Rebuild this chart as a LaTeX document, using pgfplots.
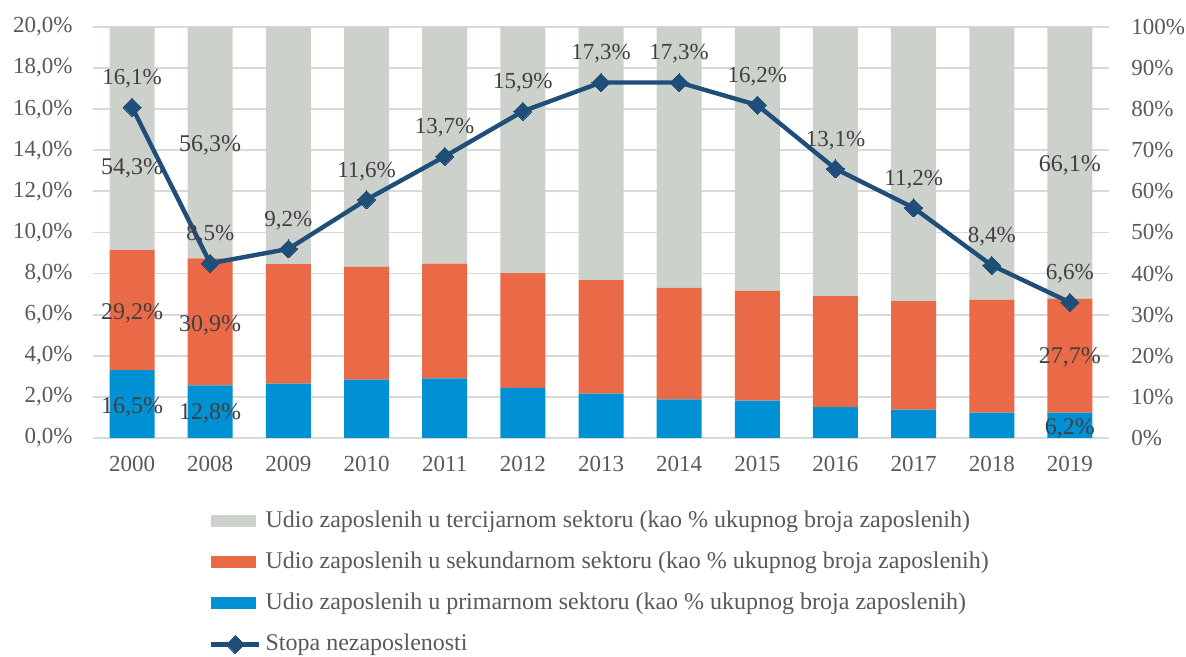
\documentclass[border=0pt]{standalone}
\usepackage{pgfplots}
\pgfplotsset{compat=1.18}
\usepackage{fontspec}
\setmainfont{Liberation Serif}
\definecolor{terc}{HTML}{CDD1CC}
\definecolor{sek}{HTML}{EA6A47}
\definecolor{prim}{HTML}{0091D5}
\definecolor{lin}{HTML}{1F4E79}
\definecolor{txt}{HTML}{595959}
\definecolor{lbl}{HTML}{404040}
\definecolor{grd}{HTML}{D9D9D9}
\pgfplotsset{
 linelegend/.style={legend image code/.code={\draw[##1, mark repeat=2, mark phase=2] plot coordinates {(0pt,0pt) (12pt,0pt) (24pt,0pt)};}},
}
\begin{document}
\fontsize{12}{14}\selectfont
\begin{tikzpicture}
\pgfplotsset{
 common/.style={width=508pt, height=205.5pt, scale only axis,
   xmin=-0.5, xmax=12.5, xtick={0,...,12},
   axis line style={draw=none}, major tick style={draw=none},
   /pgf/number format/assume math mode=true,
   tick label style={font=\fontsize{11.5}{14}\selectfont, text=txt},
   clip=false},
 lbl/.style={font=\fontsize{11.5}{14}\selectfont, text=lbl, inner sep=0pt, anchor=center},
}
\begin{axis}[common, name=ax,
  ybar stacked, bar width=22.5pt,
  ymin=0, ymax=100, ytick={0,10,...,100},
  axis y line*=right, axis x line*=bottom,
  ymajorgrids, grid style={grd, line width=0.9pt},
  xticklabels={2000,2008,2009,2010,2011,2012,2013,2014,2015,2016,2017,2018,2019},
  yticklabel={\pgfmathprintnumber{\tick}\%},
  yticklabel style={xshift=7pt},
  xticklabel style={yshift=-5pt},
]
\addplot[fill=prim, draw=none] coordinates {(0,16.5)(1,12.8)(2,13.2)(3,14.2)(4,14.5)(5,12.2)(6,10.8)(7,9.4)(8,9.1)(9,7.5)(10,6.9)(11,6.2)(12,6.2)};
\addplot[fill=sek, draw=none] coordinates {(0,29.2)(1,30.9)(2,29.1)(3,27.5)(4,27.9)(5,27.9)(6,27.6)(7,27.1)(8,26.7)(9,27.0)(10,26.4)(11,27.4)(12,27.7)};
\addplot[fill=terc, draw=none] coordinates {(0,54.3)(1,56.3)(2,57.7)(3,58.3)(4,57.6)(5,59.9)(6,61.6)(7,63.5)(8,64.2)(9,65.5)(10,66.7)(11,66.4)(12,66.1)};
\end{axis}
\begin{axis}[common,
  ymin=0, ymax=20, ytick={0,2,...,20},
  axis y line*=left, axis x line=none,
  xticklabels={},
  yticklabel={\pgfmathprintnumber[fixed,fixed zerofill,precision=1,use comma]{\tick}\%},
  yticklabel style={xshift=-6pt},
  legend style={at={(0.114,-0.156)}, anchor=north west, draw=none, fill=none,
    font=\fontsize{12}{14}\selectfont, text=txt, row sep=6.5pt,
    cells={anchor=west}, inner xsep=0pt},
  legend cell align=left,
]
\node[lbl] at (axis cs:0,1.5) {16,5\%};
\node[lbl] at (axis cs:0,6.08) {29,2\%};
\node[lbl] at (axis cs:0,13.14) {54,3\%};
\node[lbl] at (axis cs:1,1.22) {12,8\%};
\node[lbl] at (axis cs:1,5.5) {30,9\%};
\node[lbl] at (axis cs:1,14.26) {56,3\%};
\node[lbl] at (axis cs:12,0.48) {6,2\%};
\node[lbl] at (axis cs:12,3.9) {27,7\%};
\node[lbl] at (axis cs:12,13.28) {66,1\%};
\addlegendimage{legend image code/.code={\fill[terc] (0pt,-2.75pt) rectangle (22pt,2.75pt);}}
\addlegendentry{Udio zaposlenih u tercijarnom sektoru (kao \% ukupnog broja zaposlenih)}
\addlegendimage{legend image code/.code={\fill[sek] (0pt,-2.75pt) rectangle (22pt,2.75pt);}}
\addlegendentry{Udio zaposlenih u sekundarnom sektoru (kao \% ukupnog broja zaposlenih)}
\addlegendimage{legend image code/.code={\fill[prim] (0pt,-2.75pt) rectangle (22pt,2.75pt);}}
\addlegendentry{Udio zaposlenih u primarnom sektoru (kao \% ukupnog broja zaposlenih)}
\addplot[lin, line width=2.2pt, mark=square*, mark size=3.2pt, mark options={fill=lin, line width=0pt, rotate=45},
  linelegend,
  nodes near coords={\pgfmathprintnumber[fixed,fixed zerofill,precision=1,use comma]{\pgfplotspointmeta}\%},
  every node near coord/.style={font=\fontsize{11.5}{14}\selectfont, text=lbl, anchor=south, yshift=5.5pt},
  point meta=y]
coordinates {(0,16.1)(1,8.5)(2,9.2)(3,11.6)(4,13.7)(5,15.9)(6,17.3)(7,17.3)(8,16.2)(9,13.1)(10,11.2)(11,8.4)(12,6.6)};
\addlegendentry{Stopa nezaposlenosti}
\end{axis}
\pgfresetboundingbox
\path ([shift={(-46.5pt,-109.5pt)}]ax.south west) rectangle ([shift={(38.5pt,13.5pt)}]ax.north east);
\end{tikzpicture}
\end{document}
